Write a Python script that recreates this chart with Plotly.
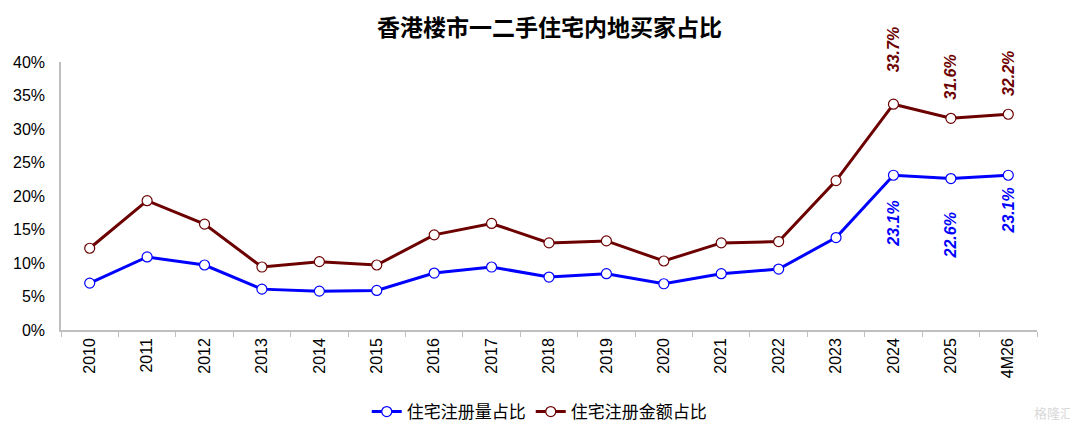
import plotly.graph_objects as go

years = ['2010', '2011', '2012', '2013', '2014', '2015', '2016', '2017', '2018',
         '2019', '2020', '2021', '2022', '2023', '2024', '2025', '4M26']
vol_share = [7.0, 10.9, 9.7, 6.1, 5.8, 5.9, 8.5, 9.4, 7.9, 8.4, 6.9, 8.4, 9.1,
             13.8, 23.1, 22.6, 23.1]
amt_share = [12.2, 19.3, 15.8, 9.4, 10.2, 9.7, 14.2, 15.9, 13.0, 13.3, 10.3, 13.0,
             13.2, 22.3, 33.7, 31.6, 32.2]
labelled = ['2024', '2025', '4M26']

BLUE = '#0000ff'
RED = '#6c0000'
FONT = 'Arial, Liberation Sans, Noto Sans CJK SC'

# label offsets (px) from the points, as placed in the source chart
red_gap = {'2024': 30, '2025': 17, '4M26': 16}
blue_gap = {'2024': 23, '2025': 32, '4M26': 10}

fig = go.Figure()
fig.add_trace(go.Scatter(x=years, y=vol_share, name='住宅注册量占比', mode='lines+markers',
                         line=dict(color=BLUE, width=3),
                         marker=dict(size=10, color='white', line=dict(color=BLUE, width=1.2))))
fig.add_trace(go.Scatter(x=years, y=amt_share, name='住宅注册金额占比', mode='lines+markers',
                         line=dict(color=RED, width=3),
                         marker=dict(size=10, color='white', line=dict(color=RED, width=1.2))))

# rotated value labels for the last three points (category axis -> use index)
for i, (yr, v, a) in enumerate(zip(years, vol_share, amt_share)):
    if yr not in labelled:
        continue
    fig.add_annotation(x=i, y=a, text=f'<b><i>{a:.1f}%</i></b>', textangle=-90,
                       showarrow=False, yanchor='bottom', yshift=red_gap[yr],
                       font=dict(family=FONT, size=16, color=RED))
    fig.add_annotation(x=i, y=v, text=f'<b><i>{v:.1f}%</i></b>', textangle=-90,
                       showarrow=False, yanchor='top', yshift=-blue_gap[yr],
                       font=dict(family=FONT, size=16, color=BLUE))

fig.add_annotation(x=1.0, y=0.0, xref='paper', yref='paper', xanchor='right', yanchor='middle',
                   text='格隆汇', showarrow=False, xshift=38, yshift=-82,
                   font=dict(family='Noto Sans CJK SC', size=13, color='#d9d9d9'))

# title as a plain annotation, kept clear of the top edge
fig.add_annotation(x=0.5, y=1.0, xref='paper', yref='paper', xanchor='center',
                   yanchor='middle', yshift=36, showarrow=False,
                   text='<b>香港楼市一二手住宅内地买家占比</b>',
                   font=dict(family='Noto Sans CJK SC', size=23, color='black'))

# page body adds an 8px margin, so the figure is sized/offset to match the window
fig.update_layout(
    width=1070, height=420,
    margin=dict(l=53, r=41, t=54, b=98, autoexpand=False),
    paper_bgcolor='white', plot_bgcolor='white',
    font=dict(family=FONT, color='black'),
    showlegend=True,
    legend=dict(orientation='h', x=0.49, xanchor='center', y=-0.306, yanchor='middle',
                font=dict(family='Noto Sans CJK SC', size=17)),
)
fig.update_xaxes(type='category', range=[-0.5, len(years) - 0.5], tickangle=-90,
                 ticks='outside', tickson='boundaries',
                 ticklen=5, tickcolor='#bfbfbf', showline=True, linecolor='#bfbfbf',
                 linewidth=1.5, showgrid=False, tickfont=dict(size=16))
fig.update_yaxes(range=[0, 40], dtick=5, ticksuffix='%', showline=True, linecolor='#bfbfbf',
                 linewidth=1.5, showgrid=False, zeroline=False, ticks='',
                 ticklabelstandoff=11, tickfont=dict(size=16))

fig.write_html('out.html')
